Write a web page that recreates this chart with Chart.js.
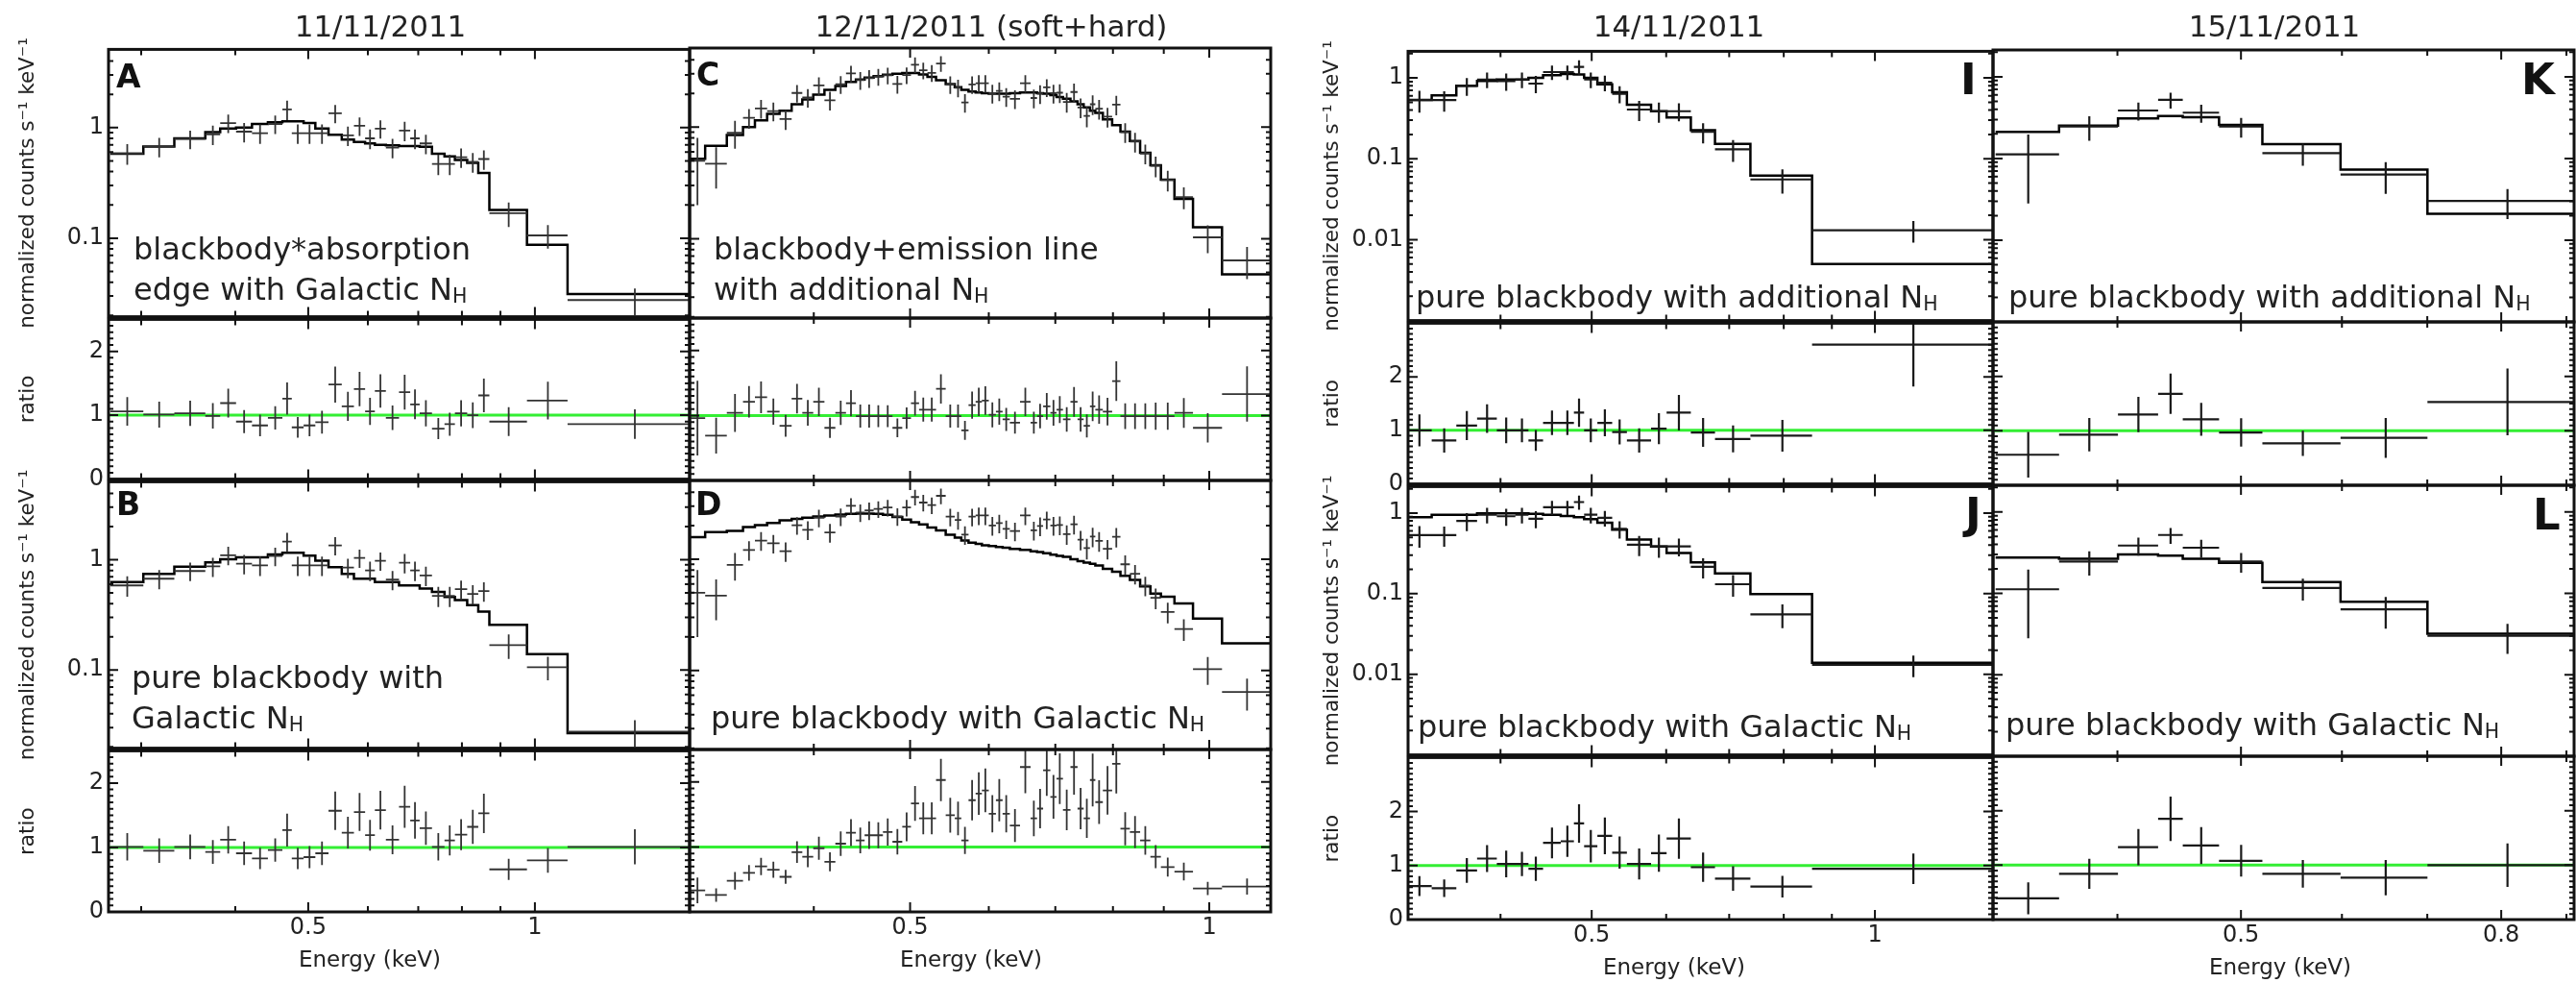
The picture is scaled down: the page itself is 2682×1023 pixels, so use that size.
<!DOCTYPE html>
<html>
<head>
<meta charset="utf-8">
<title>Spectra 11-15/11/2011</title>
<script src="https://cdn.jsdelivr.net/npm/chart.js"></script>
<style>
  html,body{margin:0;padding:0;background:#fff;}
  body{width:2682px;height:1023px;position:relative;overflow:hidden;font-family:"DejaVu Sans",sans-serif;color:#222;}
  #plots canvas{position:absolute;}
  .txt{position:absolute;white-space:nowrap;line-height:1;}
  .ttl{font-size:31px;transform:translateX(-50%);}
  .ann{font-size:32px;}
  .lab{font-weight:bold;color:#111;}
  .xt{font-size:23px;transform:translateX(-50%);}
  .sb{position:relative;top:0.17em;font-size:0.64em;}
</style>
</head>
<body>
<div id="plots"></div>

<div class="txt ttl" style="left:396px;top:12px">11/11/2011</div>
<div class="txt ttl" style="left:1032px;top:12px">12/11/2011 (soft+hard)</div>
<div class="txt ttl" style="left:1748px;top:12px">14/11/2011</div>
<div class="txt ttl" style="left:2368px;top:12px">15/11/2011</div>

<div class="txt lab" style="left:121px;top:63px;font-size:33px">A</div>
<div class="txt lab" style="left:121px;top:508px;font-size:33px">B</div>
<div class="txt lab" style="left:725px;top:61px;font-size:33px">C</div>
<div class="txt lab" style="left:724px;top:508px;font-size:33px">D</div>
<div class="txt lab" style="left:2041px;top:60px;font-size:45px">I</div>
<div class="txt lab" style="left:2046px;top:512px;font-size:45px">J</div>
<div class="txt lab" style="left:2625px;top:60px;font-size:45px">K</div>
<div class="txt lab" style="left:2637px;top:513px;font-size:45px">L</div>

<div class="txt ann" style="left:139px;top:243px">blackbody*absorption</div>
<div class="txt ann" style="left:139px;top:285px">edge with Galactic N<span class="sb">H</span></div>
<div class="txt ann" style="left:137px;top:689px">pure blackbody with</div>
<div class="txt ann" style="left:137px;top:731px">Galactic N<span class="sb">H</span></div>
<div class="txt ann" style="left:743px;top:243px">blackbody+emission line</div>
<div class="txt ann" style="left:743px;top:285px">with additional N<span class="sb">H</span></div>
<div class="txt ann" style="left:740px;top:731px">pure blackbody with Galactic N<span class="sb">H</span></div>
<div class="txt ann" style="left:1474px;top:293px">pure blackbody with additional N<span class="sb">H</span></div>
<div class="txt ann" style="left:1476px;top:740px">pure blackbody with Galactic N<span class="sb">H</span></div>
<div class="txt ann" style="left:2091px;top:293px">pure blackbody with additional N<span class="sb">H</span></div>
<div class="txt ann" style="left:2088px;top:738px">pure blackbody with Galactic N<span class="sb">H</span></div>

<div class="txt xt" style="left:385px;top:987px">Energy (keV)</div>
<div class="txt xt" style="left:1011px;top:987px">Energy (keV)</div>
<div class="txt xt" style="left:1743px;top:995px">Energy (keV)</div>
<div class="txt xt" style="left:2374px;top:995px">Energy (keV)</div>

<script>
// ===================== DATA =====================
// ---- 11/11/2011 : panels A (blackbody*edge) and B (pure blackbody) ----
const edges1111 = [0.273,0.302,0.332,0.365,0.382,0.401,0.421,0.442,0.462,0.4755,0.493,0.511,0.532,0.554,0.575,0.595,0.613,0.634,0.660,0.683,0.703,0.730,0.7585,0.783,0.813,0.841,0.870,0.976,1.105,1.61];
const counts1111 = [0.585,0.673,0.79,0.87,1.1,0.92,0.89,1.08,1.46,0.89,0.89,0.89,1.35,0.85,1.04,0.80,0.98,0.66,0.94,0.80,0.72,0.47,0.47,0.54,0.49,0.52,0.168,0.106,0.0276];
const relErr1111 = [0.21,0.2,0.19,0.2,0.19,0.2,0.2,0.19,0.2,0.2,0.2,0.2,0.19,0.2,0.19,0.2,0.19,0.2,0.2,0.2,0.2,0.21,0.21,0.2,0.2,0.2,0.25,0.24,0.27];
const modelA = [0.58,0.676,0.80,0.91,0.98,1.0,1.08,1.12,1.14,1.14,1.10,0.98,0.86,0.78,0.74,0.72,0.70,0.69,0.68,0.68,0.67,0.58,0.55,0.51,0.48,0.39,0.18,0.087,0.0313];
const ratioA = [1.06,1.01,1.03,0.99,1.19,0.90,0.84,0.96,1.26,0.81,0.84,0.89,1.48,1.14,1.41,1.06,1.38,0.96,1.36,1.17,1.03,0.79,0.86,1.03,1.0,1.31,0.90,1.23,0.86];
const modelB = [0.627,0.744,0.866,0.947,1.01,1.05,1.05,1.12,1.16,1.16,1.09,0.98,0.855,0.744,0.672,0.672,0.627,0.627,0.585,0.585,0.547,0.51,0.46,0.43,0.388,0.338,0.257,0.139,0.0267];
const ratioB = [1.01,0.95,1.01,0.93,1.12,0.91,0.83,0.96,1.27,0.83,0.85,0.91,1.57,1.23,1.55,1.19,1.58,1.12,1.63,1.42,1.30,1.01,1.11,1.20,1.32,1.53,0.66,0.80,1.01];

// ---- 12/11/2011 (soft+hard) : panels C (blackbody+line) and D (pure blackbody) ----
const edges1211 = [0.300,0.311,0.327,0.3395,0.349,0.359,0.3695,0.380,0.3895,0.3995,0.410,0.4205,0.431,0.441,0.450,0.4595,0.4695,0.480,0.491,0.501,0.5105,0.5205,0.531,0.543,0.5545,0.563,0.5725,0.582,0.5905,0.600,0.610,0.6195,0.630,0.645,0.661,0.671,0.6805,0.692,0.702,0.7125,0.725,0.737,0.7475,0.7585,0.768,0.7815,0.7985,0.814,0.832,0.852,0.8725,0.894,0.9225,0.963,1.030,1.153];
const counts1211 = [0.50,0.47,0.89,1.21,1.47,1.39,1.18,2.02,1.84,2.36,1.74,2.42,3.02,2.63,2.74,2.83,2.91,2.43,2.92,3.62,3.23,3.06,3.71,2.41,2.25,1.66,2.41,2.47,2.47,2.01,2.11,1.87,1.79,2.47,1.82,1.99,2.27,2.01,2.03,1.68,2.06,1.50,1.26,1.60,1.46,1.24,1.59,0.90,0.74,0.58,0.45,0.335,0.236,0.103,0.064];
const relErr1211 = [0.6,0.4,0.28,0.2,0.19,0.19,0.2,0.18,0.19,0.18,0.19,0.18,0.17,0.18,0.18,0.17,0.17,0.18,0.17,0.16,0.17,0.17,0.16,0.18,0.18,0.19,0.18,0.18,0.18,0.19,0.19,0.19,0.19,0.18,0.19,0.19,0.18,0.19,0.19,0.2,0.19,0.2,0.21,0.2,0.2,0.2,0.2,0.2,0.2,0.2,0.21,0.21,0.22,0.28,0.32];
const modelC = [0.52,0.68,0.85,1.0,1.15,1.31,1.40,1.60,1.77,1.95,2.15,2.33,2.54,2.66,2.77,2.86,2.94,3.0,3.04,3.04,2.96,2.81,2.63,2.43,2.27,2.15,2.08,2.04,2.01,1.99,1.99,1.99,2.01,2.04,2.04,2.01,1.99,1.93,1.86,1.79,1.70,1.60,1.50,1.40,1.34,1.17,1.04,0.91,0.75,0.59,0.455,0.338,0.227,0.127,0.048];
const ratioC = [0.96,0.69,1.04,1.21,1.28,1.06,0.84,1.26,1.04,1.21,0.81,1.04,1.19,0.99,0.99,0.99,0.99,0.81,0.96,1.19,1.09,1.09,1.41,0.99,0.99,0.77,1.16,1.21,1.23,1.01,1.06,0.94,0.89,1.21,0.89,0.99,1.14,1.04,1.09,0.94,1.21,0.94,0.84,1.14,1.09,1.06,1.53,0.99,0.99,0.99,0.99,0.99,1.04,0.81,1.33];
const modelD = [1.58,1.75,1.80,1.94,2.02,2.12,2.23,2.30,2.36,2.42,2.47,2.52,2.56,2.57,2.57,2.56,2.50,2.39,2.27,2.15,2.05,1.93,1.81,1.66,1.56,1.47,1.41,1.37,1.33,1.31,1.29,1.27,1.24,1.21,1.18,1.16,1.13,1.10,1.07,1.05,1.00,0.96,0.93,0.91,0.88,0.82,0.77,0.71,0.65,0.57,0.49,0.46,0.40,0.293,0.175];
const ratioD = [0.33,0.26,0.48,0.60,0.70,0.65,0.54,0.92,0.85,0.98,0.77,1.05,1.22,1.10,1.18,1.18,1.23,1.08,1.31,1.67,1.44,1.44,2.03,1.49,1.44,1.10,1.72,1.82,1.87,1.51,1.72,1.51,1.33,2.23,1.44,1.59,2.18,1.77,2.05,1.57,2.23,1.59,1.44,2.03,1.69,1.87,2.28,1.28,1.23,1.10,0.85,0.69,0.62,0.36,0.39];

// ---- 14/11/2011 : panels I (additional NH) and J (Galactic NH) ----
const edges1411 = [0.318,0.338,0.359,0.3777,0.3964,0.4148,0.4283,0.4439,0.4635,0.4787,0.4908,0.507,0.5257,0.545,0.5782,0.6006,0.6373,0.6761,0.7373,0.8574,1.34];
const counts1411 = [0.532,0.532,0.798,0.955,0.913,0.955,0.850,1.18,1.18,1.37,0.955,0.873,0.636,0.406,0.387,0.387,0.215,0.131,0.0555,0.0131];
const relErr1411 = [0.3,0.28,0.25,0.22,0.24,0.22,0.24,0.2,0.2,0.2,0.22,0.22,0.24,0.28,0.28,0.25,0.28,0.3,0.33,0.3];
const modelI = [0.532,0.609,0.798,0.913,0.955,0.955,1.0,1.08,1.12,1.10,1.0,0.835,0.666,0.465,0.387,0.323,0.226,0.153,0.062,0.00499];
const ratioI = [1.0,0.81,1.09,1.22,1.0,1.0,0.81,1.14,1.14,1.33,1.0,1.14,0.97,0.81,1.03,1.33,0.96,0.84,0.90,2.6];
const modelJ = [0.89,0.95,0.95,0.99,0.99,0.99,0.98,0.95,0.92,0.89,0.84,0.76,0.62,0.47,0.385,0.32,0.245,0.178,0.099,0.0139];
const ratioJ = [0.62,0.58,0.91,1.13,1.03,1.03,0.94,1.42,1.45,1.78,1.36,1.55,1.24,1.03,1.23,1.50,0.97,0.76,0.61,0.94];

// ---- 15/11/2011 : panels K (additional NH) and L (Galactic NH) ----
const edges1511 = [0.321,0.360,0.4004,0.4305,0.4501,0.4806,0.5197,0.5985,0.7002,0.918];
const counts1511 = [0.1124,0.2466,0.387,0.522,0.364,0.2466,0.1165,0.0636,0.0302];
const relErr1511 = [0.75,0.33,0.25,0.22,0.25,0.27,0.3,0.42,0.4];
const modelK = [0.211,0.253,0.309,0.332,0.32,0.258,0.150,0.073,0.021];
const ratioK = [0.56,0.93,1.30,1.68,1.21,0.97,0.77,0.87,1.53];
const modelL = [0.275,0.267,0.30,0.29,0.267,0.238,0.138,0.079,0.032];
const ratioL = [0.39,0.84,1.33,1.85,1.36,1.08,0.84,0.77,1.0];

// ---- axes: ranges, tick values and tick labels ----
const xRange1 = [0.2715, 1.605], xRange2 = [0.300, 1.153], xRange3 = [0.319, 1.335], xRange4 = [0.3195, 0.9125];
const xTicksA = [0.3,0.4,0.5,0.6,0.7,0.8,0.9,1];
const xTicksB = [0.4,0.5,0.6,0.7,0.8,0.9,1];
const xTicksC = [0.4,0.5,0.6,0.7,0.8,0.9];
const xLabels = [0.5, 1];
const xLabels4 = [0.5, 0.8];
const specRangeLeft = [0.0195, 5.1], specRangeRight = [0.001, 2.13];
const specLabelsLeft = [0.1, 1], specLabelsRight = [0.01, 0.1, 1];
const ratioRangeLeft = [0, 2.5], ratioRangeRight = [0, 3];
const ratioLabels = [0, 1, 2];
const yTitleSpec = 'normalized counts s\u207B\u00B9 keV\u207B\u00B9';
const yTitleRatio = 'ratio';

// ===================== DRAWING =====================
const FAM = '"DejaVu Sans", sans-serif';
const INK = '#222';
const GREEN = '#33ee33';
Chart.defaults.font.family = FAM;
const host = document.getElementById('plots');

const near = (a, b) => Math.abs(a - b) <= 1e-9 + 1e-6 * Math.abs(a);
const label = (list, v) => { const m = list.find(l => near(l, v)); return m === undefined ? '' : String(m); };

function logTicks(min, max, labels) {
  const t = [];
  for (let e = -4; e <= 2; e++) for (let k = 1; k <= 9; k++) {
    const v = +(k * Math.pow(10, e)).toPrecision(6);
    if (v >= min && v <= max) t.push({value: v, major: k === 1});
  }
  return t;
}
function linTicks(min, max, step) {
  const t = []; const n = Math.round((max - min) / step);
  for (let i = 0; i <= n; i++) {
    const v = +(min + i * step).toFixed(6);
    t.push({value: v, major: Math.abs(v - Math.round(v)) < 1e-6});
  }
  return t;
}
function crossPoints(edges, vals, rel, floor) {
  const pts = [];
  for (let i = 0; i < vals.length; i++) {
    const lo = edges[i], hi = edges[i + 1], c = (lo + hi) / 2, v = vals[i], e = v * rel[i];
    pts.push({x: lo, y: v}, {x: hi, y: v}, {x: hi, y: null});
    pts.push({x: c, y: Math.max(v - e, floor)}, {x: c, y: v + e}, {x: c, y: null});
  }
  return pts;
}
function stepPoints(edges, vals) {
  const pts = vals.map((v, i) => ({x: edges[i], y: v}));
  pts.push({x: edges[vals.length], y: vals[vals.length - 1]});
  return pts;
}

const framePlugin = {
  id: 'frame',
  afterDatasetsDraw(chart) {
    const {ctx, chartArea: a} = chart;
    const xs = chart.scales.x, ys = chart.scales.y;
    ctx.save();
    ctx.strokeStyle = '#111';
    ctx.lineWidth = 2;
    for (const t of xs.ticks) {
      const p = xs.getPixelForValue(t.value);
      if (p < a.left + 1 || p > a.right - 1) continue;
      const len = t.major ? 10 : 6;
      ctx.beginPath();
      ctx.moveTo(p, a.top); ctx.lineTo(p, a.top + len);
      ctx.moveTo(p, a.bottom); ctx.lineTo(p, a.bottom - len);
      ctx.stroke();
    }
    for (const t of ys.ticks) {
      const p = ys.getPixelForValue(t.value);
      if (p < a.top + 1 || p > a.bottom - 1) continue;
      const len = t.major ? 10 : 5;
      ctx.beginPath();
      ctx.moveTo(a.left, p); ctx.lineTo(a.left + len, p);
      ctx.moveTo(a.right, p); ctx.lineTo(a.right - len, p);
      ctx.stroke();
    }
    ctx.lineWidth = 3;
    ctx.strokeRect(a.left, a.top, a.right - a.left, a.bottom - a.top);
    ctx.restore();
  }
};

function addPanel(p) {
  const [L, R] = p.cols, [T, B] = p.rows;
  const W = p.yTitle ? p.yW : 0;
  const padL = p.yTitle ? 0 : 16, padR = 16, padT = 18;
  const H = p.showX ? 46 : 0, padB = p.showX ? 0 : 18;
  const cw = Math.round(R - L + W + padL + padR), ch = Math.round(B - T + H + padT + padB);
  const cv = document.createElement('canvas');
  cv.width = cw; cv.height = ch;
  Object.assign(cv.style, {left: (L - W - padL) + 'px', top: (T - padT) + 'px', width: cw + 'px', height: ch + 'px'});
  host.appendChild(cv);
  const isLog = p.yType === 'logarithmic';
  new Chart(cv.getContext('2d'), {
    type: 'scatter',
    data: {datasets: p.datasets},
    options: {
      responsive: false, maintainAspectRatio: false, animation: false, devicePixelRatio: 1, events: [],
      layout: {padding: {left: padL, right: padR, top: padT, bottom: padB}},
      plugins: {legend: {display: false}, tooltip: {enabled: false}},
      elements: {point: {radius: 0}},
      scales: {
        x: {
          type: 'logarithmic', min: p.xRange[0], max: p.xRange[1], bounds: 'data',
          display: !!p.showX, position: 'bottom',
          grid: {display: false, drawTicks: false}, border: {display: false},
          afterBuildTicks: s => { s.ticks = p.xTicks.filter(v => v >= p.xRange[0] && v <= p.xRange[1]).map(v => ({value: v, major: p.xLabels.some(l => near(l, v))})); },
          afterFit: s => { s.height = H; },
          ticks: {autoSkip: false, maxRotation: 0, minRotation: 0, padding: 2, color: INK, font: {family: FAM, size: 24}, callback: v => label(p.xLabels, v)}
        },
        y: {
          type: p.yType, min: p.yRange[0], max: p.yRange[1], bounds: 'data',
          display: !!p.yTitle, position: 'left',
          grid: {display: false, drawTicks: false}, border: {display: false},
          afterBuildTicks: s => { s.ticks = isLog ? logTicks(p.yRange[0], p.yRange[1]) : linTicks(p.yRange[0], p.yRange[1], 0.1); },
          afterFit: s => { s.width = W; },
          ticks: {autoSkip: false, padding: 5, color: INK, font: {family: FAM, size: 24}, callback: v => label(p.yLabels, v)},
          title: {display: !!p.yTitle, text: p.yTitle || '', color: INK, font: {family: FAM, size: 21.5}, padding: 0}
        }
      }
    },
    plugins: [framePlugin]
  });
}

function addColumn(c) {
  const crossStyle = {showLine: true, borderColor: c.ink, borderWidth: c.lw, pointRadius: 0, clip: 1, spanGaps: false, order: 0};
  const modelStyle = {showLine: true, stepped: true, borderColor: '#000', borderWidth: 2.5, pointRadius: 0, clip: 1, order: 1};
  const greenStyle = {showLine: true, borderColor: GREEN, borderWidth: 3, pointRadius: 0, clip: 1, order: 2};
  const unity = [{x: c.xRange[0], y: 1}, {x: c.xRange[1], y: 1}];
  const common = {cols: c.cols, xRange: c.xRange, xTicks: c.xTicks, xLabels: c.xLabels, yW: c.yW};
  const specFloor = c.specRange[0] * 0.5;
  c.models.forEach((m, k) => {
    addPanel(Object.assign({}, common, {
      rows: c.rows[2 * k], yType: 'logarithmic', yRange: c.specRange, yLabels: c.specLabels,
      yTitle: c.titles ? yTitleSpec : null, showX: false,
      datasets: [
        Object.assign({data: crossPoints(c.edges, c.counts, c.relErr, specFloor)}, crossStyle),
        Object.assign({data: stepPoints(c.edges, m.model)}, modelStyle)
      ]
    }));
    addPanel(Object.assign({}, common, {
      rows: c.rows[2 * k + 1], yType: 'linear', yRange: c.ratioRange, yLabels: ratioLabels,
      yTitle: c.titles ? yTitleRatio : null, showX: k === 1,
      datasets: [
        Object.assign({data: crossPoints(c.edges, m.ratio, c.relErr, 0)}, crossStyle),
        Object.assign({data: unity}, greenStyle)
      ]
    }));
  });
}

const rowsLeft = [[50, 331], [331, 500], [500, 780], [780, 949]];
const rowsRight = [[52, 335], [335, 505], [505, 787], [787, 957]];

addColumn({cols: [113, 718], rows: rowsLeft, xRange: xRange1, xTicks: xTicksA, xLabels: xLabels, titles: true, yW: 96,
  specRange: specRangeLeft, specLabels: specLabelsLeft, ratioRange: ratioRangeLeft, ink: '#333', lw: 1.8,
  edges: edges1111, counts: counts1111, relErr: relErr1111,
  models: [{model: modelA, ratio: ratioA}, {model: modelB, ratio: ratioB}]});
addColumn({cols: [718, 1323], rows: rowsLeft, xRange: xRange2, xTicks: xTicksA, xLabels: xLabels, titles: false, yW: 0,
  specRange: specRangeLeft, specLabels: specLabelsLeft, ratioRange: ratioRangeLeft, ink: '#333', lw: 1.8,
  edges: edges1211, counts: counts1211, relErr: relErr1211,
  models: [{model: modelC, ratio: ratioC}, {model: modelD, ratio: ratioD}]});
addColumn({cols: [1466, 2075], rows: rowsRight, xRange: xRange3, xTicks: xTicksB, xLabels: xLabels, titles: true, yW: 91,
  specRange: specRangeRight, specLabels: specLabelsRight, ratioRange: ratioRangeRight, ink: '#1a1a1a', lw: 2.2,
  edges: edges1411, counts: counts1411, relErr: relErr1411,
  models: [{model: modelI, ratio: ratioI}, {model: modelJ, ratio: ratioJ}]});
addColumn({cols: [2075, 2680], rows: rowsRight, xRange: xRange4, xTicks: xTicksC, xLabels: xLabels4, titles: false, yW: 0,
  specRange: specRangeRight, specLabels: specLabelsRight, ratioRange: ratioRangeRight, ink: '#1a1a1a', lw: 2.2,
  edges: edges1511, counts: counts1511, relErr: relErr1511,
  models: [{model: modelK, ratio: ratioK}, {model: modelL, ratio: ratioL}]});
</script>
</body>
</html>
